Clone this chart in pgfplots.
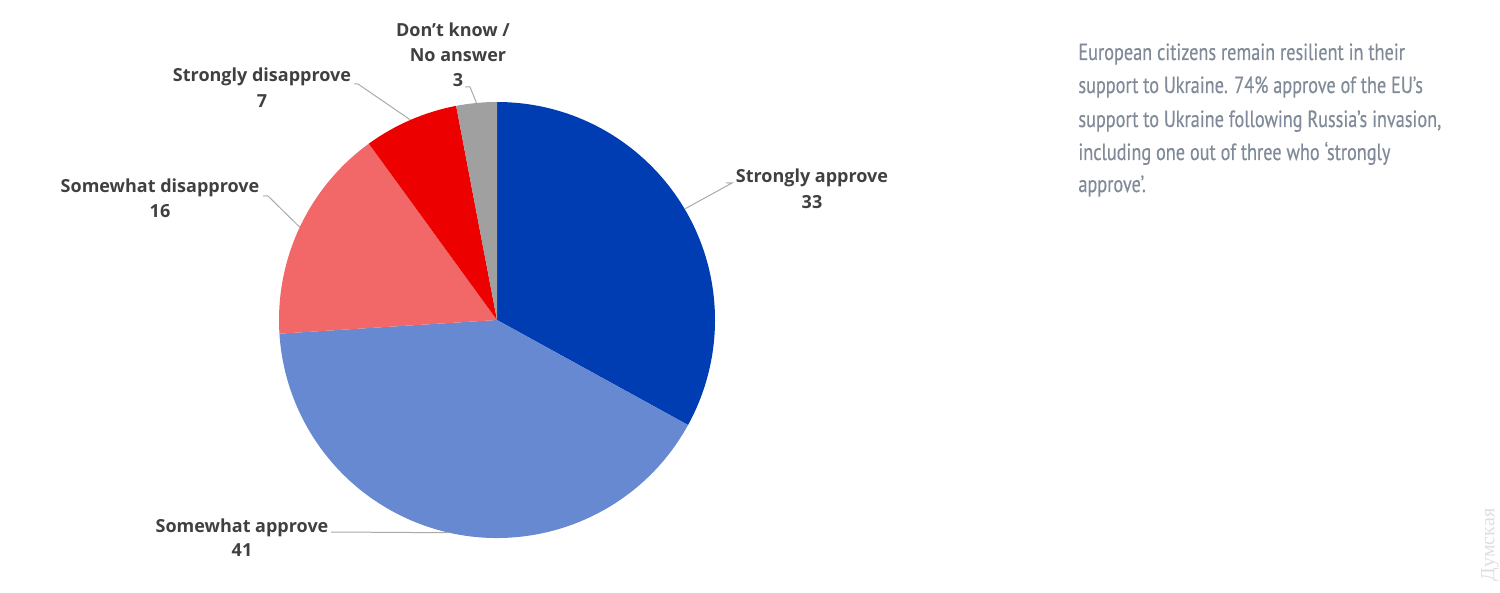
\documentclass[border=0pt]{standalone}
\usepackage{fontspec}
\usepackage{pgfplots}
\usepackage{pgfplotstable}
\pgfplotsset{compat=1.18}
\setmainfont{Open Sans}
\newfontfamily\notefont{PT Sans}[FakeStretch=0.78, FakeBold=0.35]
\newfontfamily\wmfont{Liberation Serif}

\definecolor{sapp}{RGB}{0,61,178}
\definecolor{wapp}{RGB}{102,137,209}
\definecolor{wdis}{RGB}{242,104,104}
\definecolor{sdis}{RGB}{236,0,0}
\definecolor{dkna}{RGB}{160,160,160}
\definecolor{labtxt}{RGB}{64,64,64}
\definecolor{notetxt}{RGB}{128,138,152}
\definecolor{leader}{RGB}{170,170,170}

\tikzset{
  lab/.style={font=\fontsize{9}{10}\selectfont\bfseries, text=labtxt, anchor=base, inner sep=0pt},
  note/.style={font=\notefont\fontsize{11.7}{12}\selectfont, text=notetxt, anchor=base west, inner sep=0pt},
}

% shares, clockwise from 12 o'clock
\pgfplotstableread{
key value
SA 33
WA 41
WD 16
SD 7
DK 3
}\piedata

\begin{document}
\begin{tikzpicture}
\pgfplotstablegetelem{0}{value}\of\piedata\let\vA\pgfplotsretval
\pgfplotstablegetelem{1}{value}\of\piedata\let\vB\pgfplotsretval
\pgfplotstablegetelem{2}{value}\of\piedata\let\vC\pgfplotsretval
\pgfplotstablegetelem{3}{value}\of\piedata\let\vD\pgfplotsretval
\pgfplotstablegetelem{4}{value}\of\piedata\let\vE\pgfplotsretval
\pgfmathsetmacro\aO{90}
\pgfmathsetmacro\aA{\aO-3.6*\vA}
\pgfmathsetmacro\aB{\aA-3.6*\vB}
\pgfmathsetmacro\aC{\aB-3.6*\vC}
\pgfmathsetmacro\aD{\aC-3.6*\vD}
\pgfmathsetmacro\aE{\aD-3.6*\vE}
\pgfmathsetmacro\mA{(\aO+\aA)/2}
\pgfmathsetmacro\mB{(\aA+\aB)/2}
\pgfmathsetmacro\mC{(\aB+\aC)/2}
\pgfmathsetmacro\mD{(\aC+\aD)/2}
\pgfmathsetmacro\mE{(\aD+\aE)/2}
\def\R{109pt}
\begin{axis}[
  width=750pt, height=296.5pt, scale only axis, hide axis,
  xmin=0, xmax=1500, ymin=0, ymax=593, y dir=reverse,
  clip=false,
]
\path (axis cs:0,0) rectangle (axis cs:1500,593);
% slices
\fill[sapp] (axis cs:497,320) -- ++(\aO:\R) arc[start angle=\aO, end angle=\aA, radius=\R] -- cycle;
\fill[wapp] (axis cs:497,320) -- ++(\aA:\R) arc[start angle=\aA, end angle=\aB, radius=\R] -- cycle;
\fill[wdis] (axis cs:497,320) -- ++(\aB:\R) arc[start angle=\aB, end angle=\aC, radius=\R] -- cycle;
\fill[sdis] (axis cs:497,320) -- ++(\aC:\R) arc[start angle=\aC, end angle=\aD, radius=\R] -- cycle;
\fill[dkna] (axis cs:497,320) -- ++(\aD:\R) arc[start angle=\aD, end angle=\aE, radius=\R] -- cycle;
% leader lines
\draw[leader, line width=0.5pt] (axis cs:497,320) ++(\mA:\R) -- (axis cs:732,183) -- (axis cs:726,183);
\draw[leader, line width=0.5pt] (axis cs:497,320) ++(\mB:\R) -- (axis cs:331,532);
\draw[leader, line width=0.5pt] (axis cs:497,320) ++(\mC:\R) -- (axis cs:268,196) -- (axis cs:263,196);
\draw[leader, line width=0.5pt] (axis cs:497,320) ++(\mD:\R) -- (axis cs:358,84) -- (axis cs:354,84);
\draw[leader, line width=0.5pt] (axis cs:497,320) ++(\mE:\R) -- (axis cs:470,87) -- (axis cs:465,87);
% labels
\node[lab] at (axis cs:812,183) {Strongly approve};
\node[lab] at (axis cs:812,209) {\vA};
\node[lab] at (axis cs:242,532) {Somewhat approve};
\node[lab] at (axis cs:242,556) {\vB};
\node[lab] at (axis cs:160,193) {Somewhat disapprove};
\node[lab] at (axis cs:160,218) {\vC};
\node[lab] at (axis cs:262,82) {Strongly disapprove};
\node[lab] at (axis cs:262,108) {\vD};
\node[lab] at (axis cs:453,37) {Don't know /};
\node[lab] at (axis cs:458,62) {No answer};
\node[lab] at (axis cs:458,87) {\vE};
% note
\node[note] at (axis cs:1078,60)  {European citizens remain resilient in their};
\node[note] at (axis cs:1078,93)  {support to Ukraine. 74\% approve of the EU’s};
\node[note] at (axis cs:1078,127) {support to Ukraine following Russia’s invasion,};
\node[note] at (axis cs:1078,160) {including one out of three who ‘strongly};
\node[note] at (axis cs:1078,192) {approve’.};
% watermark
\node[rotate=90, inner sep=0pt, text=black!13, font=\wmfont\fontsize{10}{10}\selectfont]
  at (axis cs:1490,545) {Думская};
\end{axis}
\end{tikzpicture}
\end{document}
